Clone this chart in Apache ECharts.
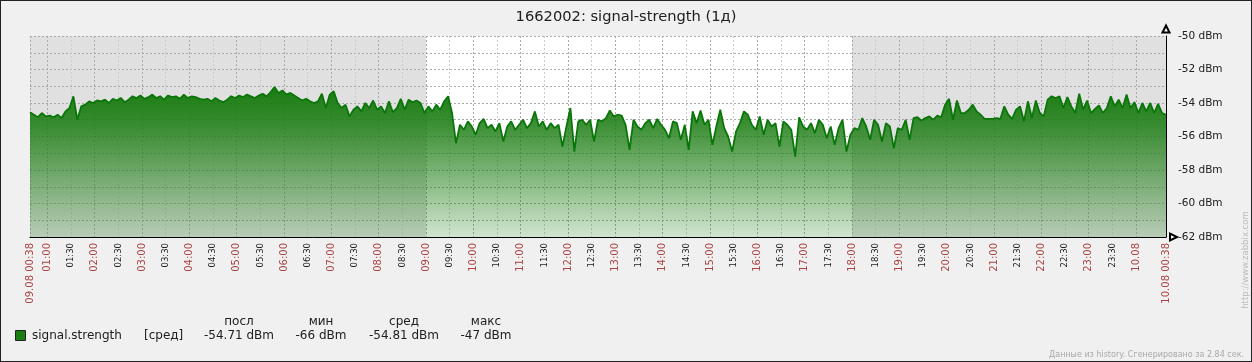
<!DOCTYPE html>
<html><head><meta charset="utf-8">
<script src="https://cdn.jsdelivr.net/npm/echarts@6/dist/echarts.min.js"></script>
<style>
html,body{margin:0;padding:0;background:#f0f0f0;}
#wrap{position:relative;width:1252px;height:362px;}
#chart{width:1252px;height:362px;}
#frame{position:absolute;left:0;top:0;width:1252px;height:362px;box-sizing:border-box;border:1px solid #222;pointer-events:none;}
</style></head><body>
<div id="wrap"><div id="chart"></div><div id="frame"></div></div>
<script>
const chartTitle = '1662002: signal-strength (1д)';
const seriesName = 'signal.strength';
const startMinute = 38;      // 09.08 00:38, minutes from 09.08 00:00
const stepMinutes = 5;
const signalValues = [
 -54.55,-54.7,-54.85,-54.6,-54.8,-54.75,-54.85,-54.7,-54.9,
 -54.5,-54.3,-53.6,-55.0,-54.2,
 -54.1,-53.9,-54.0,-53.85,
 -53.9,-53.8,-54.0,-53.75,-53.85,-53.7,-53.95,-53.8,
 -53.6,-53.7,-53.55,-53.75,-53.65,-53.5,-53.7,-53.6,-53.8,-53.55,-53.65,-53.6,-53.75,-53.5,-53.7,-53.6,-53.65,-53.75,
 -53.8,-53.75,-53.9,-53.7,-53.85,-53.95,-53.8,
 -53.6,-53.7,-53.55,-53.65,-53.5,-53.6,-53.7,-53.55,
 -53.45,-53.6,-53.35,-53.05,-53.4,-53.25,-53.5,-53.4,-53.55,
 -53.7,-53.85,-53.75,-53.9,-54.0,-53.9,
 -53.45,-54.3,-53.5,-53.3,
 -54.0,-54.3,-54.1,-54.8,-54.4,-54.2,-54.5,-54.0,-54.3,-53.85,-54.4,-54.2,-54.6,-53.9,-54.55,-54.3,-53.75,-54.4,-53.8,-53.95,-53.85,-54.0,-54.6,
 -54.2,-54.5,-54.1,-54.4,-53.9,-53.6,-54.6,
 -56.4,
 -55.3,-55.6,-55.1,-55.4,-55.9,-55.2,-54.95,-55.5,-55.3,-55.7,-55.2,-56.3,-55.4,-55.1,-55.6,-55.3,-55.0,-55.5,-55.2,-54.5,-55.4,-55.1,-55.6,-55.2,-55.5,-55.3,-56.6,-55.4,-54.3,-56.9,-55.1,-55.0,-55.3,-55.0,-56.3,-55.0,-55.1,
 -54.9,-54.45,-54.8,-54.7,-54.75,-55.3,
 -56.8,
 -55.0,-55.4,-55.6,-55.2,-55.0,-55.5,-54.95,-55.3,-55.6,-56.1,-55.1,-55.2,-56.2,-55.3,-56.8,
 -54.5,-55.2,-54.45,-55.3,-55.0,-56.5,-55.4,-54.4,-55.5,
 -56.0,-56.9,-55.7,-55.2,
 -54.5,-54.7,
 -55.3,-55.6,-54.8,-55.9,-55.0,-55.4,-55.2,-56.6,-55.1,-55.3,-55.6,
 -57.2,
 -54.85,-55.4,-55.6,-55.2,-55.8,-55.0,-55.3,-56.1,-55.4,-56.5,-55.5,
 -55.0,-56.9,-55.9,
 -55.5,-55.6,-54.9,-55.4,-56.2,-55.0,-55.3,-56.3,-55.2,-55.4,-56.7,-55.5,-55.6,-55.0,-56.2,
 -54.9,-54.85,-55.05,-54.9,-54.8,-55.0,-54.75,-54.85,
 -54.1,-53.75,-55.0,-53.85,-54.6,
 -54.6,-54.4,-54.1,-54.5,-54.7,-54.95,-54.95,-54.95,-54.9,-54.95,
 -54.2,-54.7,-54.95,
 -54.4,-54.2,-55.1,-53.9,-54.9,-53.85,-54.6,-54.8,-53.8,-53.6,-53.7,-53.6,-54.3,
 -53.65,-54.2,-54.6,-53.45,-54.4,-53.85,-54.6,-54.35,-54.15,-54.6,-54.3,-53.6,-54.2,-53.8,-54.3,-53.5,-54.3,-53.95,-54.6,-54.0,-54.5,-54.0,-54.6,-54.05,-54.6,-54.71
];
const xTickMinutes = [38,60,90,120,150,180,210,240,270,300,330,360,390,420,450,480,510,540,570,600,630,660,690,720,750,780,810,840,870,900,930,960,990,1020,1050,1080,1110,1140,1170,1200,1230,1260,1290,1320,1350,1380,1410,1440,1478];
const xTickLabels = ['09.08 00:38','01:00','01:30','02:00','02:30','03:00','03:30','04:00','04:30','05:00','05:30','06:00','06:30','07:00','07:30','08:00','08:30','09:00','09:30','10:00','10:30','11:00','11:30','12:00','12:30','13:00','13:30','14:00','14:30','15:00','15:30','16:00','16:30','17:00','17:30','18:00','18:30','19:00','19:30','20:00','20:30','21:00','21:30','22:00','22:30','23:00','23:30','10.08','10.08 00:38'];
const mainGridMinutes = [38,60,120,180,240,300,360,420,480,540,600,660,720,780,840,900,960,1020,1080,1140,1200,1260,1320,1380,1440];
const subGridMinutes = [90,150,210,270,330,390,450,510,570,630,690,750,810,870,930,990,1050,1110,1170,1230,1290,1350,1410];
const xMin = 38, xMax = 1478;
const yMin = -62, yMax = -50, yStep = 1, yUnit = 'dBm';
const workStart = 540, workEnd = 1080;
const legendFunc = '[сред]';
const legendHeaders = ['посл','мин','сред','макс'];
const legendValues = ['-54.71 dBm','-66 dBm','-54.81 dBm','-47 dBm'];
const footerText = 'Данные из history. Сгенерировано за 2.84 сек.';
const sideText = 'http://www.zabbix.com';

const FONT = 'DejaVu Sans';
const chart = echarts.init(document.getElementById('chart'), null, {renderer:'canvas'});
const dashed = [2,2];
const legendCols = [239, 321, 404, 486];
const graphics = [
  {type:'rect', shape:{x:15.5,y:330.5,width:10,height:10}, style:{fill:'#1A7C11', stroke:'#222', lineWidth:1}},
  {type:'text', x:32, y:336, style:{text:seriesName, font:'12px "DejaVu Sans"', fill:'#202020', textVerticalAlign:'middle'}},
  {type:'text', x:144, y:336, style:{text:legendFunc, font:'12px "DejaVu Sans"', fill:'#202020', textVerticalAlign:'middle'}},
  {type:'text', x:1244, y:355, style:{text:footerText, font:'8px "DejaVu Sans"', fill:'#A8A8A8', textAlign:'right', textVerticalAlign:'middle'}},
  {type:'text', x:1246, y:260, rotation:Math.PI/2, style:{text:sideText, font:'8.5px "DejaVu Sans"', fill:'#BBBBBB', textAlign:'center', textVerticalAlign:'middle'}}
];
legendHeaders.forEach((h,k)=>{
  graphics.push({type:'text', x:legendCols[k], y:322, style:{text:h, font:'12px "DejaVu Sans"', fill:'#202020', textAlign:'center', textVerticalAlign:'middle'}});
  graphics.push({type:'text', x:legendCols[k], y:336, style:{text:legendValues[k], font:'12px "DejaVu Sans"', fill:'#202020', textAlign:'center', textVerticalAlign:'middle'}});
});

const option = {
  backgroundColor:'#f0f0f0',
  animation:false,
  textStyle:{fontFamily:FONT},
  title:{text:chartTitle, left:'center', top:10, padding:0,
    textStyle:{fontSize:14.67, fontWeight:'normal', color:'#202020', fontFamily:FONT}},
  grid:{left:30, right:86, top:36, bottom:125},
  xAxis:[
    {type:'value', min:xMin, max:xMax, z:1, position:'bottom',
     axisLine:{show:true, onZero:false, lineStyle:{color:'#000', width:1}, symbol:['none','emptyTriangle'], symbolSize:[7,7], symbolOffset:[0,7.5]},
     axisTick:{show:false, customValues:mainGridMinutes},
     splitLine:{show:true, lineStyle:{color:'#AAAAAA', type:dashed, width:1}},
     axisLabel:{customValues:xTickMinutes, rotate:90, margin:6, showMinLabel:true, showMaxLabel:true, hideOverlap:false,
       formatter:function(v){
         const k = xTickMinutes.indexOf(v);
         if (k < 0) return '';
         const major = (v % 60 === 0) || k === 0 || k === xTickMinutes.length-1;
         return '{' + (major ? 'h' : 'm') + '|' + xTickLabels[k] + '}';
       },
       rich:{h:{color:'#AA4444', fontSize:10, fontFamily:FONT}, m:{color:'#202020', fontSize:8.5, fontFamily:FONT}}
     }},
    {type:'value', min:xMin, max:xMax, z:1, position:'top',
     axisLine:{show:false}, axisLabel:{show:false},
     axisTick:{show:false, customValues:subGridMinutes},
     splitLine:{show:true, lineStyle:{color:'#CCCCCC', type:dashed, width:1}}}
  ],
  yAxis:{type:'value', position:'right', min:yMin, max:yMax, interval:yStep, z:1,
    axisLine:{show:true, onZero:false, lineStyle:{color:'#000', width:1}, symbol:['none','emptyTriangle'], symbolSize:[7,7], symbolOffset:[0,7]},
    axisTick:{show:false},
    splitLine:{show:true, lineStyle:{color:'#AAAAAA', type:dashed, width:1}},
    axisLabel:{margin:12, color:'#202020', fontSize:10.5, fontFamily:FONT,
      formatter:function(v){ return (v % 2 === 0) ? (v + ' ' + yUnit) : ''; }}
  },
  graphic:graphics,
  series:[{
    type:'line', name:seriesName, xAxisIndex:0, yAxisIndex:0, z:2,
    data:signalValues.map((v,i)=>[startMinute + stepMinutes*i, v]),
    showSymbol:false, symbol:'none',
    lineStyle:{color:'#0A760A', width:1.8},
    itemStyle:{color:'#1A7C11'},
    areaStyle:{origin:'start', opacity:1, color:new echarts.graphic.LinearGradient(0,0,0,1,[
      {offset:0, color:'rgba(26,124,17,1)'},{offset:0.25, color:'rgba(26,124,17,0.85)'},{offset:1, color:'rgba(26,124,17,0.2)'}])},
    markArea:{silent:true, z:0, label:{show:false},
      data:[
        [{xAxis:xMin, itemStyle:{color:'#E0E0E0'}},{xAxis:workStart}],
        [{xAxis:workStart, itemStyle:{color:'#FFFFFF'}},{xAxis:workEnd}],
        [{xAxis:workEnd, itemStyle:{color:'#E0E0E0'}},{xAxis:xMax}]
      ]}
  }]
};
chart.setOption(option);
</script>
</body></html>
